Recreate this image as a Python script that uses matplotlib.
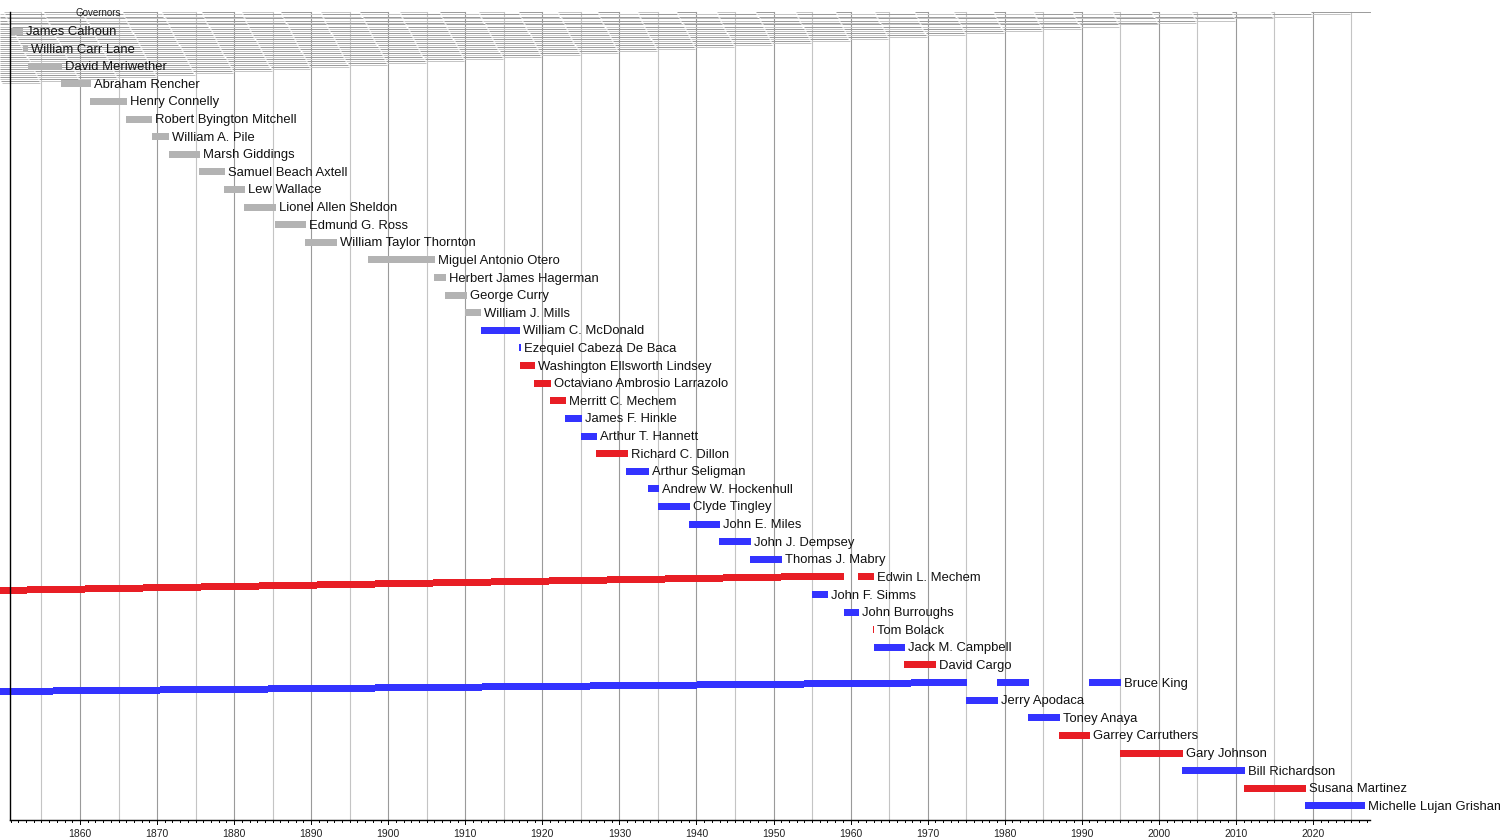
import matplotlib.pyplot as plt

plt.rcParams["font.family"] = ["Liberation Sans", "DejaVu Sans"]

# governors of New Mexico, in chart row order
names = [
    "James Calhoun", "William Carr Lane", "David Meriwether", "Abraham Rencher",
    "Henry Connelly", "Robert Byington Mitchell", "William A. Pile", "Marsh Giddings",
    "Samuel Beach Axtell", "Lew Wallace", "Lionel Allen Sheldon", "Edmund G. Ross",
    "William Taylor Thornton", "Miguel Antonio Otero", "Herbert James Hagerman",
    "George Curry", "William J. Mills", "William C. McDonald", "Ezequiel Cabeza De Baca",
    "Washington Ellsworth Lindsey", "Octaviano Ambrosio Larrazolo", "Merritt C. Mechem",
    "James F. Hinkle", "Arthur T. Hannett", "Richard C. Dillon", "Arthur Seligman",
    "Andrew W. Hockenhull", "Clyde Tingley", "John E. Miles", "John J. Dempsey",
    "Thomas J. Mabry", "Edwin L. Mechem", "John F. Simms", "John Burroughs",
    "Tom Bolack", "Jack M. Campbell", "David Cargo", "Bruce King", "Jerry Apodaca",
    "Toney Anaya", "Garrey Carruthers", "Gary Johnson", "Bill Richardson",
    "Susana Martinez", "Michelle Lujan Grisham",
]

# T = territorial, D = Democratic, R = Republican
parties = (["T"] * 17 + ["D", "D", "R", "R", "R", "D", "D", "R", "D", "D", "D", "D",
                         "D", "D", "R", "D", "D", "R", "D", "R", "D", "D", "D", "R",
                         "R", "D", "R", "D"])

# terms in office (start, end) as drawn
terms = [
    [(1851.0, 1852.6)], [(1852.6, 1853.3)], [(1853.3, 1857.6)], [(1857.5, 1861.4)],
    [(1861.3, 1866.1)], [(1866.0, 1869.4)], [(1869.3, 1871.6)], [(1871.5, 1875.6)],
    [(1875.4, 1878.8)], [(1878.7, 1881.4)], [(1881.3, 1885.4)], [(1885.3, 1889.3)],
    [(1889.2, 1893.3)], [(1897.4, 1906.1)], [(1905.9, 1907.5)], [(1907.4, 1910.2)],
    [(1910.0, 1912.1)], [(1912.0, 1917.1)], [(1917.0, 1917.2)], [(1917.1, 1919.0)],
    [(1918.9, 1921.1)], [(1921.0, 1923.1)], [(1922.9, 1925.1)], [(1925.0, 1927.1)],
    [(1926.9, 1931.1)], [(1930.9, 1933.8)], [(1933.7, 1935.1)], [(1935.0, 1939.2)],
    [(1939.0, 1943.1)], [(1942.9, 1947.1)], [(1946.9, 1951.1)],
    [(1961.0, 1963.0)],
    [(1955.0, 1957.1)], [(1959.1, 1961.1)], [(1962.9, 1963.1)], [(1963.0, 1967.1)],
    [(1966.9, 1971.1)],
    [(1979.0, 1983.2), (1990.9, 1995.1)],
    [(1975.0, 1979.1)], [(1983.0, 1987.2)], [(1987.0, 1991.1)], [(1994.9, 2003.1)],
    [(2003.0, 2011.2)], [(2011.1, 2019.1)], [(2019.0, 2026.8)],
]

# bars smeared back to the left edge of the picture (row, end year)
smeared_rows = [31, 37]
smeared_ends = [1959.2, 1975.1]

tick_years = list(range(1860, 2021, 10))
grid_years = list(range(1855, 2026, 5))

axis_start = 1850.9
axis_end = 2027.4

party_colors = {"T": "#b3b3b3", "D": "#3333ff", "R": "#e81e25"}

PX_YEAR = 7.706     # pixels per year
PX_ROW = 17.61      # pixels per row
X0 = 1850 - 2.94 / PX_YEAR
Y0 = -31 / PX_ROW


def py(pixel):
    """Pixel row of the picture to row units."""
    return Y0 + pixel / PX_ROW


fig = plt.figure(figsize=(15, 8.4), dpi=100)
ax = fig.add_axes([0, 0, 1, 1])
ax.set_xlim(X0, X0 + 1500 / PX_YEAR)
ax.set_ylim(py(840), py(0))
ax.axis("off")

dark_grid = "#9a9a9a"
light_grid = "#c4c4c4"

# vertical grid lines
for g in grid_years:
    color = dark_grid if g % 10 == 0 else light_grid
    ax.plot([g, g], [py(12), py(820)], color=color, lw=0.8, zorder=1)

# fanned grid artefacts at the top: each grid line smeared into a staircase
n_grid = len(grid_years)
for k, g in enumerate(grid_years, start=1):
    color = dark_grid if g % 10 == 0 else light_grid
    shift = 5.0 * k / (n_grid + 1)
    xs, ys = [], []
    for j in range(k + 1):
        left = max(X0, 1850 + 5 * (j - 1) + shift)
        right = min(g, 1850 + 5 * j + shift)
        if right <= left:
            continue
        y = py(12.5 + (k - j) * 2)
        xs += [left, right, float("nan")]
        ys += [y, y, float("nan")]
    ax.plot(xs, ys, color=color, lw=0.7, zorder=1, solid_capstyle="butt")
ax.plot([2020, axis_end], [py(12.5), py(12.5)], color=dark_grid, lw=0.7, zorder=1)

ax.text(98.5 / PX_YEAR + X0, py(13.5), "Governors", fontsize=7, ha="center",
        va="center", color="#222222", zorder=4)

bar_h = 7 / PX_ROW

# normal bars
for row, (spans, party) in enumerate(zip(terms, parties)):
    color = party_colors[party]
    for start, end in spans:
        ax.barh(row, end - start, left=start, height=bar_h, color=color,
                linewidth=0, zorder=3)
    last_end = spans[-1][1]
    ax.text(last_end + 3 / PX_YEAR, row + 1 / PX_ROW, names[row], fontsize=9.4,
            ha="left", va="center", color="#111111", zorder=5)

# stair-stepped smeared bars
for row, end, first_px, step_px, n in zip(smeared_rows, smeared_ends,
                                           [27, 53], [58, 107.3], [15, 10]):
    color = party_colors[parties[row]]
    edges = [X0] + [X0 + (first_px + s * step_px) / PX_YEAR for s in range(n - 1)] + [end]
    for s in range(n):
        off = (n - 1 - s) / PX_ROW
        ax.barh(row + off, edges[s + 1] - edges[s], left=edges[s], height=bar_h,
                color=color, linewidth=0, zorder=3)

# axes lines and ticks
ax.plot([axis_start, axis_start], [py(12), py(820)], color="black", lw=1, zorder=6)
ax.plot([axis_start, axis_end], [py(820), py(820)], color="black", lw=1, zorder=6)
for yr in range(1851, 2028):
    length = 3.5 if yr % 10 == 0 else 2
    ax.plot([yr, yr], [py(820), py(820 + length)], color="black", lw=0.7, zorder=6)
for yr in tick_years:
    ax.text(yr, py(834), str(yr), fontsize=7.5, ha="center", va="center",
            color="#222222")

fig.savefig("out.png", dpi=100)
